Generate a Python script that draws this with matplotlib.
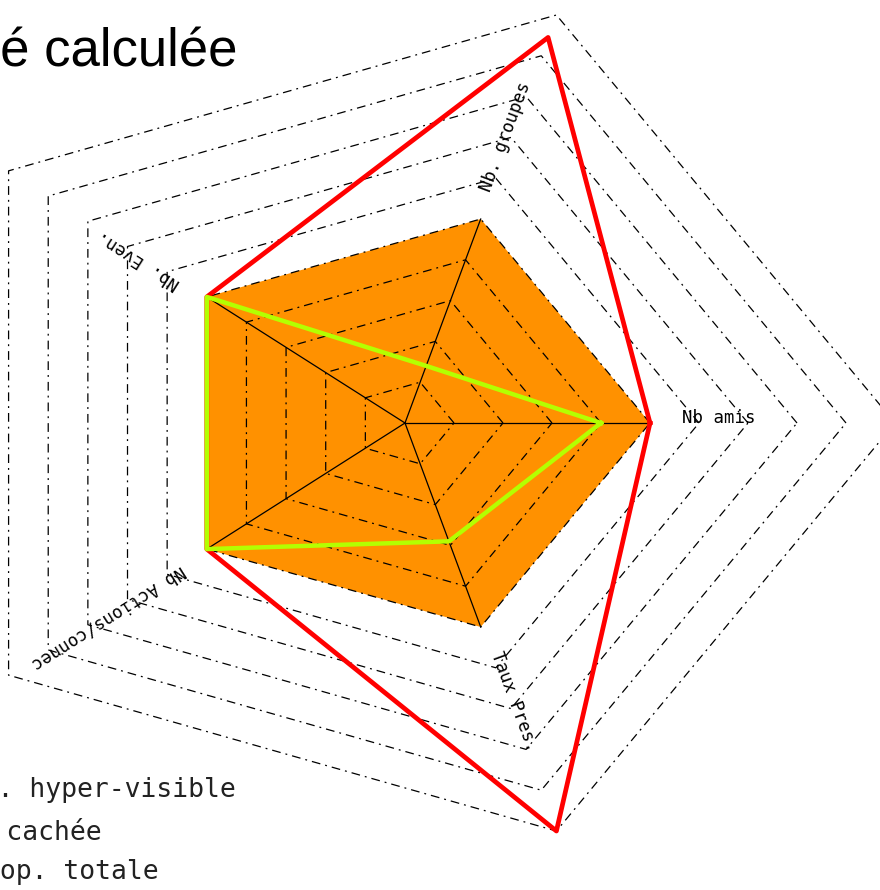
import numpy as np
import matplotlib
matplotlib.use('Agg')
import matplotlib.pyplot as plt

# axes of the radar, counter-clockwise from "Nb amis"
labels = ['Nb amis', 'Nb. groupes', 'Nb. Even.', 'Nb Actions/connec', 'Taux Pres.']
angles_deg = [0, 72, 144, 216, 288]

# values on the 0-10 scale of the rings
pop_hyper = [5, 5, 5, 5, 5]          # orange fill
pop_cachee = [5, 9.45, 5, 5, 10]     # red line
pop_totale = [4, 1.4, 5, 5, 2.9]     # green line

legend_labels = ['Pop. hyper-visible', 'Pop. cachée', 'Pop. totale']
title = 'Popularité calculée'

n_rings = 10
spoke_len = 5

W, H = 880, 890
fig = plt.figure(figsize=(W / 100, H / 100), dpi=100)
ax = fig.add_axes([0, 0, 1, 1])
ax.axis('off')

# the original is not drawn with equal aspect: pixel centre and px per unit
cx, cy = 405, 423
sx, sy = 49.0, 42.9
ax.set_xlim(-cx / sx, (W - cx) / sx)
ax.set_ylim(-(H - cy) / sy, cy / sy)

ang = np.radians(angles_deg)


def poly(vals):
    v = np.asarray(vals, dtype=float)
    x = v * np.cos(ang)
    y = v * np.sin(ang)
    return np.append(x, x[0]), np.append(y, y[0])


# orange filled pentagon
px, py = poly(pop_hyper)
ax.fill(px, py, color='#ff9100', lw=0, zorder=1)

# dash-dot rings
for r in range(1, n_rings + 1):
    rx, ry = poly([r] * 5)
    ax.plot(rx, ry, color='black', lw=0.9, dashes=(7, 4, 1.5, 4), zorder=2)

# spokes
for a in ang:
    ax.plot([0, spoke_len * np.cos(a)], [0, spoke_len * np.sin(a)],
            color='black', lw=0.9, zorder=3)

# series lines
rx, ry = poly(pop_cachee)
ax.plot(rx, ry, color='#ff0000', lw=3.4, zorder=4)
gx, gy = poly(pop_totale)
ax.plot(gx, gy, color='#b4ff00', lw=3.2, zorder=5)

# axis labels, written along the axes
for lab, a, d in zip(labels, ang, angles_deg):
    r = 5.65
    ax.text(r * np.cos(a), r * np.sin(a), lab, rotation=d,
            rotation_mode='anchor', transform_rotates_text=True,
            ha='left', va='baseline', fontsize=12.5,
            fontfamily='DejaVu Sans Mono', color='black', zorder=6)

# title (cut by the left edge of the picture)
fig.text(237 / W, 1 - 66 / H, title, ha='right', va='baseline',
         fontsize=38, fontfamily='Liberation Sans', color='black')

# legend texts (cut by the left edge too)
leg_right = [236, 102, 159]
leg_base = [797, 840, 879]
for lab, xr, yb in zip(legend_labels, leg_right, leg_base):
    fig.text(xr / W, 1 - yb / H, lab, ha='right', va='baseline',
             fontsize=19, fontfamily='DejaVu Sans Mono', color='#222222')

fig.savefig('out.png', dpi=100)
